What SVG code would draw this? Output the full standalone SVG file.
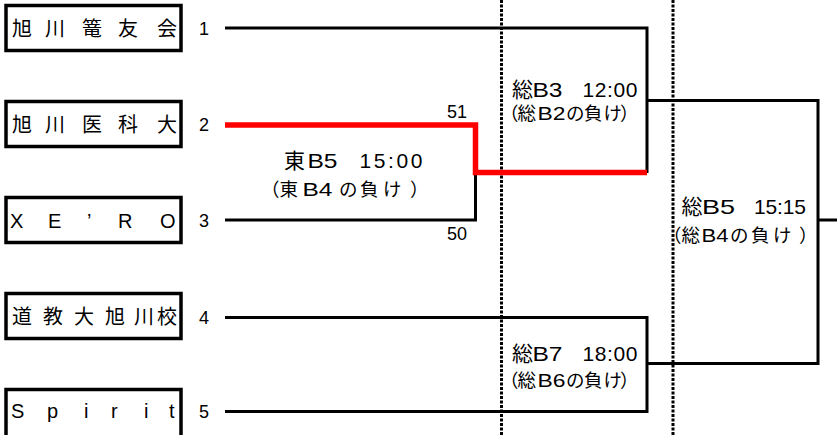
<svg xmlns="http://www.w3.org/2000/svg" width="837" height="435" viewBox="0 0 837 435">
<style>
.box{fill:#fff;stroke:#000;stroke-width:3.5}
.name{font-family:"Liberation Sans","Noto Sans CJK JP",sans-serif;font-size:20px;fill:#000}
.num{font-family:"Liberation Sans","Noto Sans CJK JP",sans-serif;font-size:18px;fill:#000}
.lbl{font-family:"Liberation Sans","Noto Sans CJK JP",sans-serif;font-size:21px;fill:#000}
.sub{font-family:"Liberation Sans","Noto Sans CJK JP",sans-serif;font-size:18.5px;fill:#000}
.ln{fill:none;stroke:#000;stroke-width:3}
.red{fill:none;stroke:#f00;stroke-width:5.5}
.dot{fill:none;stroke:#000;stroke-width:3;stroke-dasharray:3 1.5}
</style>
<rect width="837" height="435" fill="#fff"/>
<g id="guides">
<line class="dot" x1="501.5" y1="0" x2="501.5" y2="435"/>
<line class="dot" x1="673" y1="0" x2="673" y2="435"/>
</g>
<g id="connectors">
<path class="ln" d="M225 28 H647 V173"/>
<path class="ln" d="M225 220 H475.5 V172"/>
<path class="ln" d="M647 100.5 H818 V363.5 H647"/>
<path class="ln" d="M818 220 H837"/>
<path class="ln" d="M225 317.5 H647 V411.5 H225"/>
<path class="red" d="M225 125 H475.5 V172.5 H647"/>
</g>
<g id="team1">
<rect class="box" x="6" y="5.5" width="175" height="45"/>
<text class="name" x="12 45 82 118 157" y="35.5">旭川篭友会</text>
<text class="num" x="199" y="34.5">1</text>
</g>
<g id="team2">
<rect class="box" x="6" y="101.5" width="175" height="45"/>
<text class="name" x="12 45 82 118 157" y="131.5">旭川医科大</text>
<text class="num" x="199" y="131">2</text>
</g>
<g id="team3">
<rect class="box" x="6" y="197.5" width="175" height="45"/>
<text class="name" x="10 48 87 118 160" y="228">XE’RO</text>
<text class="num" x="199" y="227">3</text>
</g>
<g id="team4">
<rect class="box" x="6" y="293.5" width="175" height="45"/>
<text class="name" x="12 43 74 105 134 157" y="323.5">道教大旭川校</text>
<text class="num" x="199" y="323.5">4</text>
</g>
<g id="team5">
<rect class="box" x="6" y="389.5" width="175" height="50"/>
<text class="name" x="11 47 84 111 144 169" y="418">Spirit</text>
<text class="num" x="199" y="418">5</text>
</g>
<g id="matchE5">
<text class="lbl" x="284" y="168">東</text>
<text class="lbl" x="307.5" y="168" textLength="30" lengthAdjust="spacingAndGlyphs">B5</text>
<text class="lbl" x="359.5" y="168" textLength="63" lengthAdjust="spacing">15:00</text>
<text class="sub" x="261 279.5" y="196">（東</text>
<text class="sub" x="302.5" y="196" textLength="30" lengthAdjust="spacingAndGlyphs">B4</text>
<text class="sub" x="339 360 383 410" y="196">の負け）</text>
<text class="num" x="447" y="118">51</text>
<text class="num" x="447" y="240">50</text>
</g>
<g id="matchS3">
<text class="lbl" x="512" y="97">総</text>
<text class="lbl" x="532.5" y="97" textLength="30" lengthAdjust="spacingAndGlyphs">B3</text>
<text class="lbl" x="582.5" y="97" textLength="55" lengthAdjust="spacing">12:00</text>
<text class="sub" x="500 517.5" y="119.5">（総</text>
<text class="sub" x="537.5" y="119.5" textLength="28" lengthAdjust="spacingAndGlyphs">B2</text>
<text class="sub" x="566 584 603.5 620" y="119.5">の負け）</text>
</g>
<g id="matchS5">
<text class="lbl" x="681.5" y="214">総</text>
<text class="lbl" x="702" y="214" textLength="33" lengthAdjust="spacingAndGlyphs">B5</text>
<text class="lbl" x="754" y="214" textLength="52" lengthAdjust="spacing">15:15</text>
<text class="sub" x="663 681.5" y="242">（総</text>
<text class="sub" x="701.5" y="242" textLength="27" lengthAdjust="spacingAndGlyphs">B4</text>
<text class="sub" x="730 751 773 799" y="242">の負け）</text>
</g>
<g id="matchS7">
<text class="lbl" x="512" y="361">総</text>
<text class="lbl" x="532.5" y="361" textLength="30" lengthAdjust="spacingAndGlyphs">B7</text>
<text class="lbl" x="582.5" y="361" textLength="55" lengthAdjust="spacing">18:00</text>
<text class="sub" x="500 517.5" y="386.5">（総</text>
<text class="sub" x="537.5" y="386.5" textLength="28" lengthAdjust="spacingAndGlyphs">B6</text>
<text class="sub" x="566 584 603.5 620" y="386.5">の負け）</text>
</g>
</svg>
